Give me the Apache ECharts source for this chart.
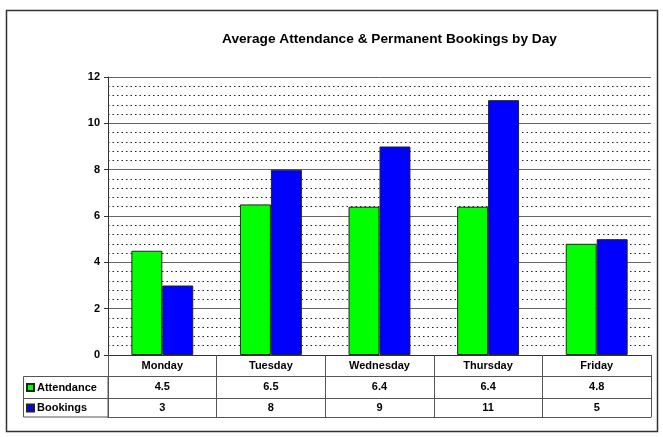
<!DOCTYPE html>
<html>
<head>
<meta charset="utf-8">
<script src="https://cdn.jsdelivr.net/npm/echarts@6/dist/echarts.min.js"></script>
<style>
  html, body { margin: 0; padding: 0; background: #fff; }
  #chart { width: 663px; height: 437px; }
</style>
</head>
<body>
<div id="chart"></div>
<script>
  // data
  var days = ['Monday', 'Tuesday', 'Wednesday', 'Thursday', 'Friday'];
  var attendance = [4.5, 6.5, 6.4, 6.4, 4.8];
  var bookings = [3, 8, 9, 11, 5];
  var yMin = 0, yMax = 12, yStep = 2;

  var lineCol = '#555';
  var fontFam = 'Liberation Sans, Arial, sans-serif';

  // one category axis per table row, stacked below the plot with offset
  function rowAxis(offset, tickLen, margin, values) {
    return {
      type: 'category',
      data: days,
      position: 'bottom',
      offset: offset,
      axisLine: { show: true, lineStyle: { color: lineCol, width: 1 } },
      axisTick: { show: tickLen > 0, length: tickLen, interval: 0, lineStyle: { color: lineCol, width: 1 } },
      axisLabel: {
        show: !!values,
        margin: margin,
        interval: 0,
        fontFamily: fontFam, fontWeight: 'bold', fontSize: 11, color: '#000',
        formatter: function (v, i) { return values ? String(values[i]) : v; }
      },
      splitLine: { show: false }
    };
  }

  var xAxes = [
    {
      type: 'category',
      data: days,
      position: 'bottom',
      axisLine: { show: true, lineStyle: { color: '#333', width: 1 } },
      axisTick: { show: true, length: 21, interval: 0, lineStyle: { color: lineCol, width: 1 } },
      axisLabel: { margin: 5, interval: 0, fontFamily: fontFam, fontWeight: 'bold', fontSize: 11, color: '#000' }
    },
    rowAxis(21, 22, 5, attendance),
    rowAxis(43, 19, 4, bookings),
    rowAxis(62, 0, 0, null)
  ];

  var option = {
    animation: false,
    backgroundColor: '#fff',
    title: {
      text: 'Average Attendance & Permanent Bookings by Day',
      left: 217,
      top: 27,
      textStyle: { fontFamily: fontFam, fontWeight: 'bold', fontSize: 13.7, color: '#000' }
    },
    grid: { left: 108, right: 12, top: 77, bottom: 82, containLabel: false },
    legend: {
      orient: 'vertical',
      left: 21,
      top: 377,
      itemWidth: 7,
      itemHeight: 7,
      itemGap: 9.5,
      icon: 'rect',
      textStyle: { fontFamily: fontFam, fontWeight: 'bold', fontSize: 11, color: '#000', padding: [0, 0, 0, -2] },
      data: ['Attendance', 'Bookings']
    },
    xAxis: xAxes,
    yAxis: {
      type: 'value',
      min: yMin,
      max: yMax,
      interval: yStep,
      axisLine: { show: true, lineStyle: { color: '#333' } },
      axisTick: { show: true, length: 4, lineStyle: { color: '#333' } },
      axisLabel: { margin: 8, fontFamily: fontFam, fontWeight: 'bold', fontSize: 11, color: '#000' },
      splitLine: { show: true, lineStyle: { color: '#666', width: 1 } },
      minorTick: { show: false, splitNumber: 5 },
      minorSplitLine: { show: true, lineStyle: { color: '#222', width: 1, type: [1.5, 3] } }
    },
    series: [
      {
        name: 'Attendance',
        type: 'bar',
        data: attendance,
        barGap: '0%',
        barCategoryGap: '43%',
        itemStyle: { color: '#00ff00', borderColor: '#222', borderWidth: 1 }
      },
      {
        name: 'Bookings',
        type: 'bar',
        data: bookings,
        barGap: '0%',
        barCategoryGap: '43%',
        itemStyle: { color: '#0000ff', borderColor: '#222', borderWidth: 1 }
      }
    ],
    graphic: [
      // outer chart frame
      { type: 'rect', silent: true, shape: { x: 6.5, y: 10.5, width: 651, height: 421 },
        style: { fill: 'none', stroke: '#333', lineWidth: 1.5 } },
      // legend column of the data table
      { type: 'rect', silent: true, shape: { x: 23.5, y: 376.5, width: 84.5, height: 40.5 },
        style: { fill: 'none', stroke: lineCol, lineWidth: 1 } },
      { type: 'line', silent: true, shape: { x1: 23.5, y1: 398.5, x2: 108, y2: 398.5 },
        style: { stroke: lineCol, lineWidth: 1 } }
    ]
  };

  var myChart = echarts.init(document.getElementById('chart'));
  myChart.setOption(option);
</script>
</body>
</html>
